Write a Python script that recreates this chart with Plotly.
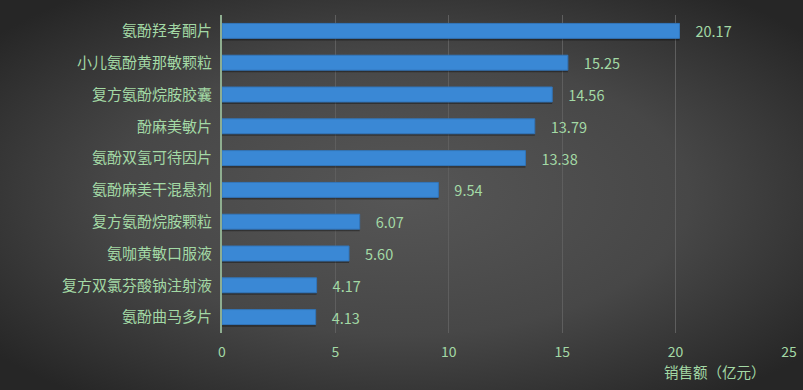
import base64
import plotly.graph_objects as go

categories = ["氨酚羟考酮片", "小儿氨酚黄那敏颗粒", "复方氨酚烷胺胶囊", "酚麻美敏片", "氨酚双氢可待因片",
              "氨酚麻美干混悬剂", "复方氨酚烷胺颗粒", "氨咖黄敏口服液", "复方双氯芬酸钠注射液", "氨酚曲马多片"]
sales = [20.17, 15.25, 14.56, 13.79, 13.38, 9.54, 6.07, 5.60, 4.17, 4.13]
x_ticks = [0, 5, 10, 15, 20, 25]
x_title = "销售额（亿元）"

TXT = "#a3d9a5"
FONT = "Noto Sans CJK SC"

W, H = 803, 390
L, R, T, B = 222, 14, 15, 57
PW, PH = W - L - R, H - T - B

svg = """<svg xmlns='http://www.w3.org/2000/svg' width='803' height='390' viewBox='0 0 803 390' preserveAspectRatio='none'>
<defs><radialGradient id='g' cx='50%' cy='50%' r='65%'>
<stop offset='0%' stop-color='#565656'/><stop offset='55%' stop-color='#474747'/><stop offset='100%' stop-color='#262626'/>
</radialGradient></defs>
<rect width='803' height='390' fill='url(#g)'/></svg>"""
uri = "data:image/svg+xml;base64," + base64.b64encode(svg.encode()).decode()

fig = go.Figure()
# shadow trace
fig.add_trace(go.Bar(
    y=categories, x=sales, orientation="h", width=0.5,
    marker=dict(color="rgba(0,0,0,0.35)", line=dict(width=0)),
    offset=-0.2, hoverinfo="skip", showlegend=False,
))
fig.add_trace(go.Bar(
    y=categories, x=sales, orientation="h", width=0.47,
    offset=-0.235,
    marker=dict(color="#3a88d5", line=dict(color="#3276bb", width=1)),
    text=[f"{v:.2f}" for v in sales], texttemplate="    %{text}",
    textposition="outside", cliponaxis=False, constraintext="none",
    textfont=dict(color=TXT, size=14.5, family=FONT),
    showlegend=False,
))

fig.update_layout(
    width=W, height=H,
    margin=dict(l=L, r=R, t=T, b=B, autoexpand=False),
    paper_bgcolor="#3a3a3a", plot_bgcolor="rgba(0,0,0,0)",
    barmode="overlay",
    font=dict(family=FONT, color=TXT, size=14),
    images=[dict(source=uri, xref="paper", yref="paper", x=-L / PW, y=1 + T / PH,
                 sizex=W / PW, sizey=H / PH,
                 xanchor="left", yanchor="top", sizing="stretch", layer="below")],
    xaxis=dict(range=[0, 25], tickvals=x_ticks, showgrid=True, gridcolor="#5e5e5e", gridwidth=1,
               zeroline=False, showline=False, ticks="outside", ticklen=6, tickcolor="rgba(0,0,0,0)",
               tickfont=dict(size=14, color=TXT)),
    yaxis=dict(autorange="reversed", showline=True, linecolor="#8fae90", linewidth=2,
               ticks="outside", ticklen=5, tickcolor="rgba(0,0,0,0)", showgrid=False,
               tickfont=dict(size=15, color=TXT)),
    annotations=[dict(text=x_title, xref="paper", yref="paper", x=(715 - L) / PW, y=-(359 - T - PH) / PH,
                      xanchor="center", yanchor="top", showarrow=False,
                      font=dict(size=14.5, color=TXT, family=FONT))],
)
fig.write_html("out.html", config={"displayModeBar": False},
               post_script="document.body.style.margin='0';document.body.style.overflow='hidden';")
